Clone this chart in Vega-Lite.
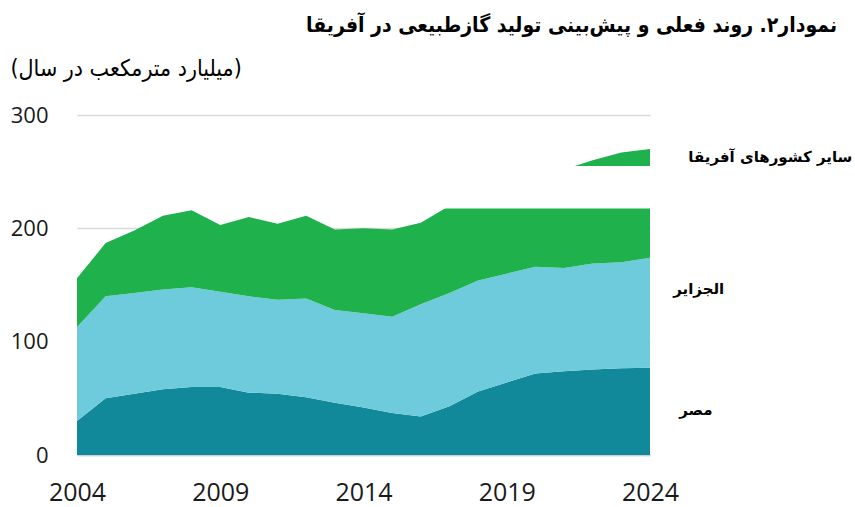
{
  "$schema": "https://vega.github.io/schema/vega-lite/v6.json",
  "width": 573,
  "height": 340,
  "autosize": {"type": "none"},
  "padding": {"left": 77, "top": 115, "right": 205, "bottom": 52},
  "background": "white",
  "config": {"view": {"stroke": null}},
  "title": {
    "text": "نمودار۲. روند فعلی و پیش‌بینی تولید گازطبیعی در آفریقا",
    "anchor": "end",
    "frame": "group",
    "dx": 187,
    "offset": 21,
    "font": "DejaVu Sans Condensed, DejaVu Sans",
    "fontSize": 21,
    "fontWeight": "bold",
    "color": "#000000"
  },
  "datasets": {
    "gas": [
      {"year": 2004, "country": "مصر", "k": 1, "value": 30},
      {"year": 2005, "country": "مصر", "k": 1, "value": 50},
      {"year": 2006, "country": "مصر", "k": 1, "value": 54},
      {"year": 2007, "country": "مصر", "k": 1, "value": 58},
      {"year": 2008, "country": "مصر", "k": 1, "value": 60},
      {"year": 2009, "country": "مصر", "k": 1, "value": 60},
      {"year": 2010, "country": "مصر", "k": 1, "value": 55},
      {"year": 2011, "country": "مصر", "k": 1, "value": 54},
      {"year": 2012, "country": "مصر", "k": 1, "value": 51},
      {"year": 2013, "country": "مصر", "k": 1, "value": 46},
      {"year": 2014, "country": "مصر", "k": 1, "value": 42},
      {"year": 2015, "country": "مصر", "k": 1, "value": 37},
      {"year": 2016, "country": "مصر", "k": 1, "value": 34},
      {"year": 2017, "country": "مصر", "k": 1, "value": 43},
      {"year": 2018, "country": "مصر", "k": 1, "value": 56},
      {"year": 2019, "country": "مصر", "k": 1, "value": 64},
      {"year": 2020, "country": "مصر", "k": 1, "value": 72},
      {"year": 2021, "country": "مصر", "k": 1, "value": 74},
      {"year": 2022, "country": "مصر", "k": 1, "value": 75.5},
      {"year": 2023, "country": "مصر", "k": 1, "value": 76.5},
      {"year": 2024, "country": "مصر", "k": 1, "value": 77},
      {"year": 2004, "country": "الجزایر", "k": 2, "value": 83},
      {"year": 2005, "country": "الجزایر", "k": 2, "value": 90},
      {"year": 2006, "country": "الجزایر", "k": 2, "value": 89},
      {"year": 2007, "country": "الجزایر", "k": 2, "value": 88},
      {"year": 2008, "country": "الجزایر", "k": 2, "value": 88},
      {"year": 2009, "country": "الجزایر", "k": 2, "value": 84},
      {"year": 2010, "country": "الجزایر", "k": 2, "value": 85},
      {"year": 2011, "country": "الجزایر", "k": 2, "value": 83},
      {"year": 2012, "country": "الجزایر", "k": 2, "value": 87},
      {"year": 2013, "country": "الجزایر", "k": 2, "value": 82},
      {"year": 2014, "country": "الجزایر", "k": 2, "value": 83},
      {"year": 2015, "country": "الجزایر", "k": 2, "value": 85},
      {"year": 2016, "country": "الجزایر", "k": 2, "value": 99},
      {"year": 2017, "country": "الجزایر", "k": 2, "value": 100},
      {"year": 2018, "country": "الجزایر", "k": 2, "value": 98},
      {"year": 2019, "country": "الجزایر", "k": 2, "value": 96},
      {"year": 2020, "country": "الجزایر", "k": 2, "value": 94},
      {"year": 2021, "country": "الجزایر", "k": 2, "value": 91},
      {"year": 2022, "country": "الجزایر", "k": 2, "value": 93.5},
      {"year": 2023, "country": "الجزایر", "k": 2, "value": 93.5},
      {"year": 2024, "country": "الجزایر", "k": 2, "value": 97},
      {"year": 2004, "country": "سایر کشورهای آفریقا", "k": 3, "value": 43},
      {"year": 2005, "country": "سایر کشورهای آفریقا", "k": 3, "value": 47},
      {"year": 2006, "country": "سایر کشورهای آفریقا", "k": 3, "value": 55},
      {"year": 2007, "country": "سایر کشورهای آفریقا", "k": 3, "value": 65},
      {"year": 2008, "country": "سایر کشورهای آفریقا", "k": 3, "value": 68},
      {"year": 2009, "country": "سایر کشورهای آفریقا", "k": 3, "value": 59},
      {"year": 2010, "country": "سایر کشورهای آفریقا", "k": 3, "value": 70},
      {"year": 2011, "country": "سایر کشورهای آفریقا", "k": 3, "value": 67},
      {"year": 2012, "country": "سایر کشورهای آفریقا", "k": 3, "value": 73},
      {"year": 2013, "country": "سایر کشورهای آفریقا", "k": 3, "value": 71},
      {"year": 2014, "country": "سایر کشورهای آفریقا", "k": 3, "value": 75},
      {"year": 2015, "country": "سایر کشورهای آفریقا", "k": 3, "value": 77},
      {"year": 2016, "country": "سایر کشورهای آفریقا", "k": 3, "value": 72},
      {"year": 2017, "country": "سایر کشورهای آفریقا", "k": 3, "value": 77},
      {"year": 2018, "country": "سایر کشورهای آفریقا", "k": 3, "value": 78},
      {"year": 2019, "country": "سایر کشورهای آفریقا", "k": 3, "value": 80},
      {"year": 2020, "country": "سایر کشورهای آفریقا", "k": 3, "value": 80},
      {"year": 2021, "country": "سایر کشورهای آفریقا", "k": 3, "value": 87},
      {"year": 2022, "country": "سایر کشورهای آفریقا", "k": 3, "value": 91},
      {"year": 2023, "country": "سایر کشورهای آفریقا", "k": 3, "value": 97},
      {"year": 2024, "country": "سایر کشورهای آفریقا", "k": 3, "value": 96}
    ],
    "mask": [
      {"from": 2016, "to": 2024, "low": 217.6, "high": 255}
    ],
    "labels": [
      {"t": "سایر کشورهای آفریقا", "yr": 2028.2, "v": 263},
      {"t": "الجزایر", "yr": 2025.7, "v": 146.5},
      {"t": "مصر", "yr": 2025.6, "v": 39.7}
    ]
  },
  "layer": [
    {
      "data": {"name": "gas"},
      "mark": {"type": "area", "interpolate": "linear"},
      "encoding": {
        "x": {
          "field": "year",
          "type": "quantitative",
          "title": null,
          "scale": {"domain": [2004, 2024], "nice": false, "zero": false},
          "axis": {
            "values": [2004, 2009, 2014, 2019, 2024],
            "format": "d",
            "grid": false,
            "ticks": false,
            "domain": true,
            "domainColor": "#d0d0d0",
            "domainWidth": 1.5,
            "labelFont": "Open Sans",
            "labelFontSize": 25,
            "labelColor": "#1a1a1a",
            "labelPadding": 25,
            "labelFlush": false
          }
        },
        "y": {
          "field": "value",
          "type": "quantitative",
          "stack": "zero",
          "title": "(میلیارد مترمکعب در سال)",
          "scale": {"domain": [0, 300], "nice": false},
          "axis": {
            "values": [0, 100, 200, 300],
            "grid": true,
            "gridColor": "#d9d9d9",
            "gridWidth": 1.5,
            "ticks": false,
            "domain": false,
            "labelFont": "Open Sans",
            "labelFontSize": 22,
            "labelColor": "#1a1a1a",
            "labelPadding": 29,
            "titleFont": "DejaVu Sans Condensed, DejaVu Sans",
            "titleFontWeight": "normal",
            "titleFontSize": 23,
            "titleColor": "#000000",
            "titleAngle": 0,
            "titleAlign": "left",
            "titleBaseline": "alphabetic",
            "titleX": -67,
            "titleY": -40
          }
        },
        "color": {
          "field": "country",
          "type": "nominal",
          "scale": {
            "domain": ["مصر", "الجزایر", "سایر کشورهای آفریقا"],
            "range": ["#12899b", "#6dcbdc", "#1fb14b"]
          },
          "legend": null
        },
        "order": {"field": "k", "type": "quantitative", "sort": "ascending"}
      }
    },
    {
      "data": {"name": "mask"},
      "mark": {"type": "rect", "color": "white"},
      "encoding": {
        "x": {"field": "from", "type": "quantitative", "title": null},
        "x2": {"field": "to"},
        "y": {"field": "low", "type": "quantitative", "title": "(میلیارد مترمکعب در سال)"},
        "y2": {"field": "high"}
      }
    },
    {
      "data": {"name": "labels"},
      "mark": {
        "type": "text",
        "font": "DejaVu Sans",
        "fontWeight": "bold",
        "fontSize": 15,
        "align": "center",
        "baseline": "middle",
        "color": "#000000"
      },
      "encoding": {
        "x": {"field": "yr", "type": "quantitative", "title": null},
        "y": {"field": "v", "type": "quantitative", "title": "(میلیارد مترمکعب در سال)"},
        "text": {"field": "t"}
      }
    }
  ]
}
